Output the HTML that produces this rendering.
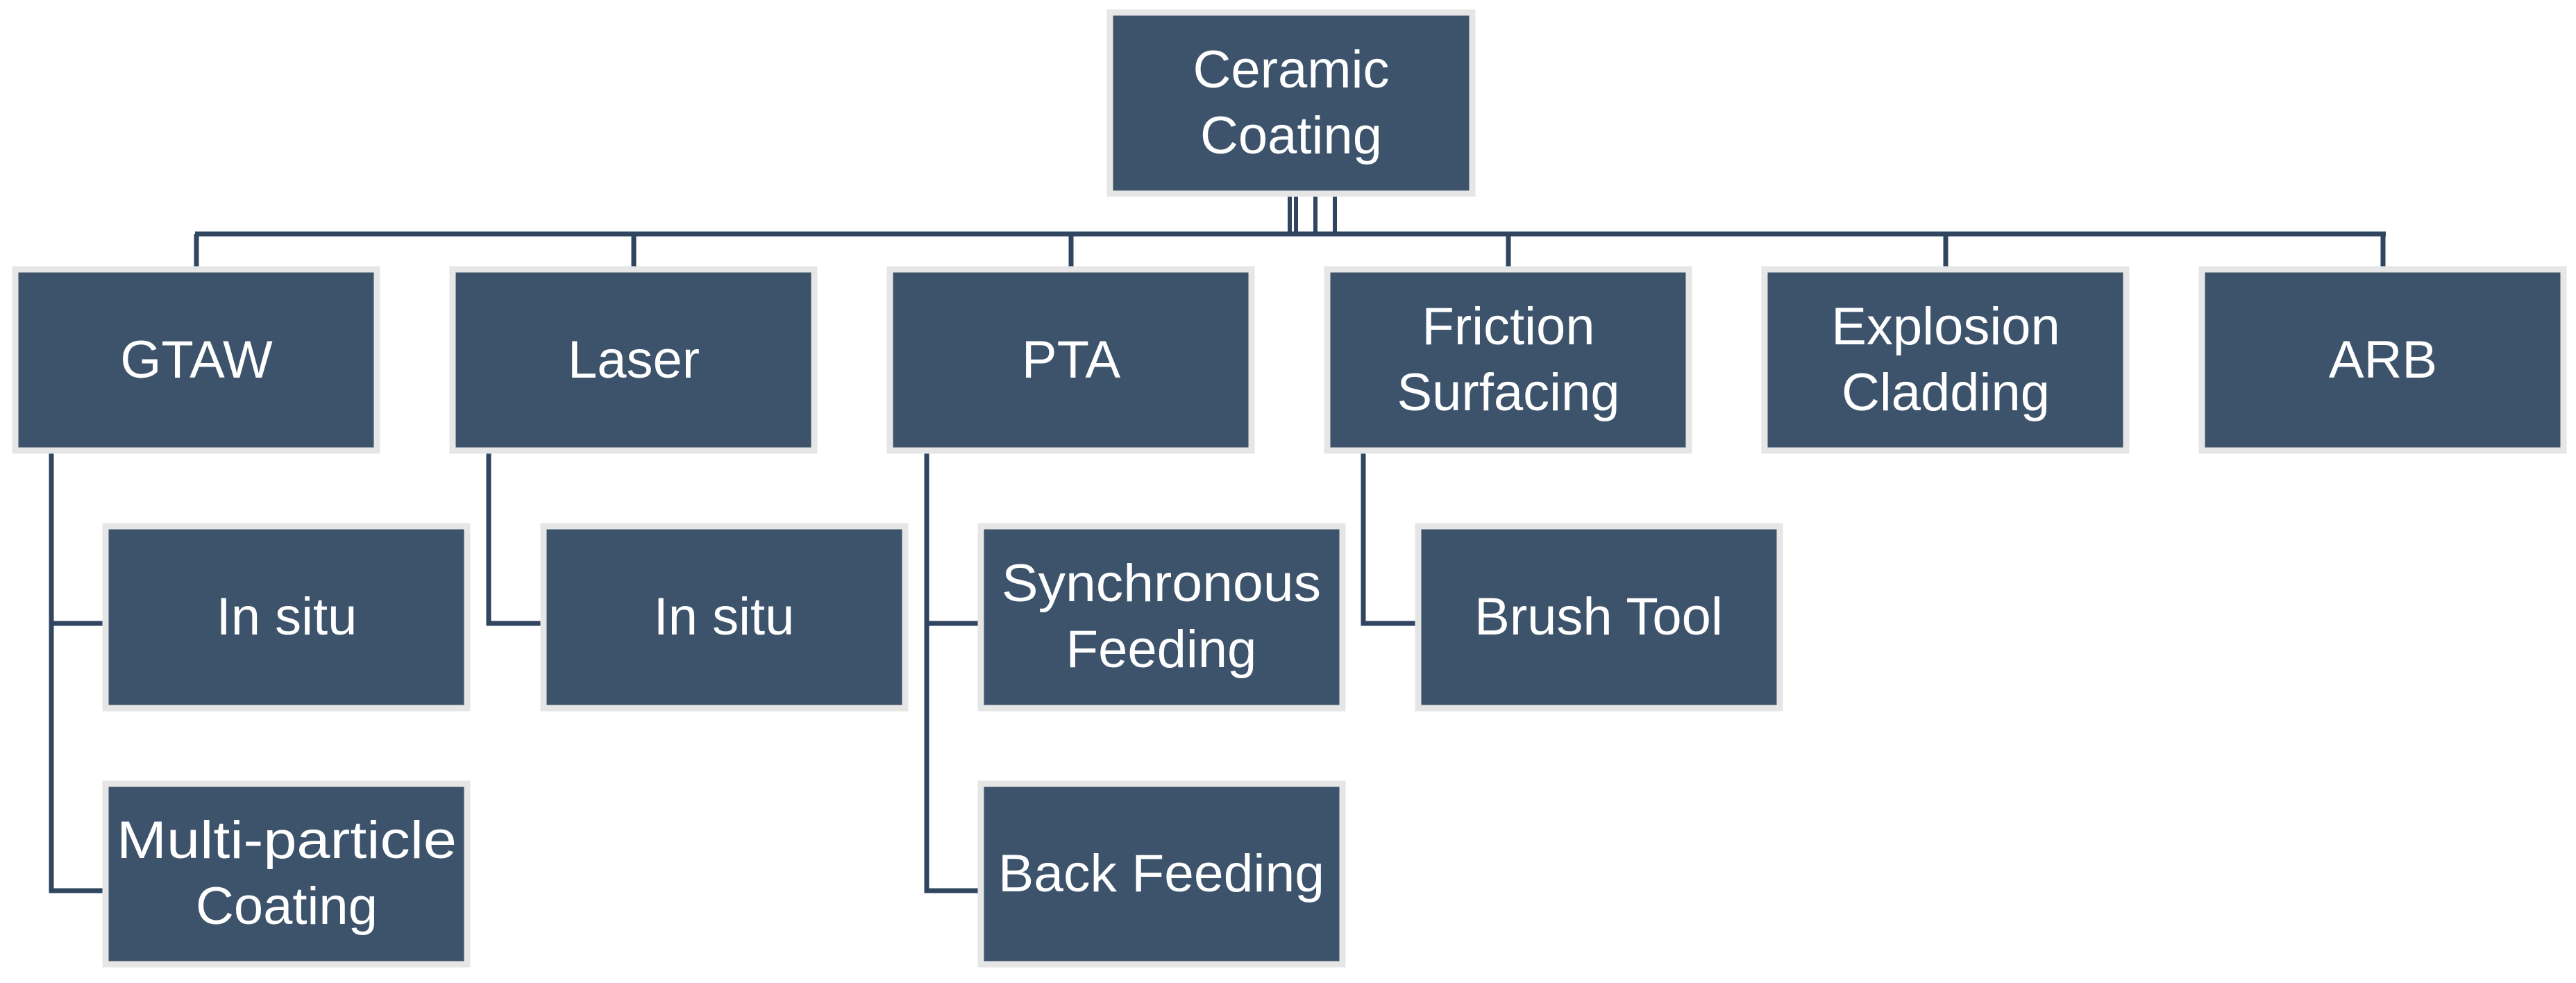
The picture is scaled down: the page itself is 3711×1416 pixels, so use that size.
<!DOCTYPE html>
<html><head><meta charset="utf-8"><style>
html,body{margin:0;padding:0;background:#fff;}
svg{display:block;}
text{font-family:"Liberation Sans",sans-serif;font-size:76px;fill:#fff;text-anchor:middle;}
</style></head><body>
<svg width="3711" height="1416" viewBox="0 0 3711 1416" xmlns="http://www.w3.org/2000/svg">
<g stroke="#2f4560" stroke-width="7" fill="none">
<line x1="281" y1="337" x2="3437" y2="337"/>
<line x1="283" y1="337" x2="283" y2="384"/>
<line x1="913" y1="337" x2="913" y2="384"/>
<line x1="1543" y1="337" x2="1543" y2="384"/>
<line x1="2173" y1="337" x2="2173" y2="384"/>
<line x1="2803" y1="337" x2="2803" y2="384"/>
<line x1="3433" y1="337" x2="3433" y2="384"/>
<g stroke-width="6"><line x1="1858" y1="283" x2="1858" y2="337"/><line x1="1867" y1="283" x2="1867" y2="337"/><line x1="1895" y1="283" x2="1895" y2="337"/><line x1="1923" y1="283" x2="1923" y2="337"/></g>
<polyline points="74,653 74,1283 148,1283"/>
<line x1="74" y1="898" x2="148" y2="898"/>
<polyline points="704,653 704,898 779,898"/>
<polyline points="1335,653 1335,1283 1409,1283"/>
<line x1="1335" y1="898" x2="1409" y2="898"/>
<polyline points="1964,653 1964,898 2039,898"/>
</g>
<g fill="#3c536b" stroke="#e6e6e6" stroke-width="9">
<rect x="1599" y="18" width="522" height="261"/>
<rect x="22" y="388" width="521" height="261"/>
<rect x="652" y="388" width="521" height="261"/>
<rect x="1282" y="388" width="521" height="261"/>
<rect x="1912" y="388" width="521" height="261"/>
<rect x="2542" y="388" width="521" height="261"/>
<rect x="3172" y="388" width="521" height="261"/>
<rect x="152" y="758" width="521" height="262"/>
<rect x="783" y="758" width="521" height="262"/>
<rect x="1413" y="758" width="521" height="262"/>
<rect x="2043" y="758" width="521" height="262"/>
<rect x="152" y="1129" width="521" height="260"/>
<rect x="1413" y="1129" width="521" height="260"/>
</g>
<text x="1860" y="126">Ceramic</text><text x="1860" y="221">Coating</text>
<text x="283" y="544">GTAW</text>
<text x="913" y="544">Laser</text>
<text x="1543" y="544">PTA</text>
<text x="2173" y="496">Friction</text><text x="2173" y="591">Surfacing</text>
<text x="2803" y="496">Explosion</text><text x="2803" y="591">Cladding</text>
<text x="3433" y="544">ARB</text>
<text x="413" y="914">In situ</text>
<text x="1043" y="914">In situ</text>
<text x="1673" y="866" textLength="460" lengthAdjust="spacingAndGlyphs">Synchronous</text><text x="1673" y="961">Feeding</text>
<text x="2303" y="914">Brush Tool</text>
<text x="413" y="1236" textLength="490" lengthAdjust="spacingAndGlyphs">Multi-particle</text><text x="413" y="1331">Coating</text>
<text x="1673" y="1284" textLength="470" lengthAdjust="spacingAndGlyphs">Back Feeding</text>
</svg>
</body></html>
